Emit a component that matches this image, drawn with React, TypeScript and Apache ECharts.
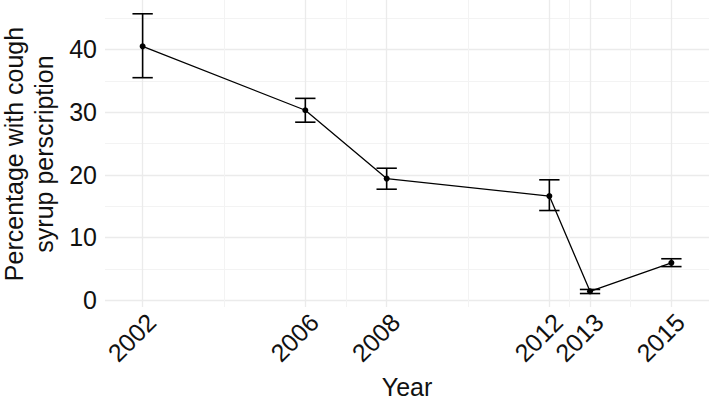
import React, { useEffect, useRef } from "react";
import * as echarts from "echarts";

const years = [2002, 2006, 2008, 2012, 2013, 2015];
const pct = [40.5, 30.3, 19.4, 16.6, 1.4, 5.95];
const lower = [35.5, 28.4, 17.7, 14.3, 1.05, 5.35];
const upper = [45.7, 32.2, 21.05, 19.2, 1.7, 6.6];
const xMajor = [2002, 2006, 2008, 2012, 2013, 2015];
const xMinor = [2004, 2007, 2010, 2012.5, 2014];
const yMajor = [0, 10, 20, 30, 40];
const yMinor = [5, 15, 25, 35, 45];
const yTitle = "Percentage with cough\nsyrup perscription";
const xTitle = "Year";

const FONT = "Liberation Sans, Arial, Helvetica, sans-serif";
const TXT = "#111111";
const FS = 25;

export default function App() {
  const ref = useRef<HTMLDivElement>(null);
  useEffect(() => {
    document.body.style.margin = "0";
    const chart = echarts.init(ref.current!, null, { renderer: "svg" });
    const xMin = 2001.075;
    const xMax = 2015.925;
    const yMin = -1.1;
    const yMax = 47.9;
    chart.setOption({
      animation: false,
      textStyle: { fontFamily: FONT },
      grid: { left: 105, right: 0, top: 0, bottom: 101, containLabel: false, outerBoundsMode: "none" },
      graphic: [
        {
          type: "text",
          x: 29,
          y: 154,
          rotation: Math.PI / 2,
          style: {
            text: yTitle,
            fill: TXT,
            font: `${FS}px ${FONT}`,
            fontSize: FS,
            fontFamily: FONT,
            lineHeight: 30,
            align: "center",
            verticalAlign: "middle",
          },
        },
      ],
      xAxis: [
        {
          type: "value",
          min: xMin,
          max: xMax,
          name: xTitle,
          nameLocation: "middle",
          nameGap: 67,
          nameTextStyle: { fontSize: FS, color: TXT, fontFamily: FONT },
          axisLine: { show: false },
          axisTick: { show: false, customValues: xMajor },
          axisLabel: {
            customValues: xMajor,
            rotate: 45,
            align: "right",
            verticalAlign: "top",
            fontSize: FS,
            color: TXT,
            fontFamily: FONT,
            margin: 2,
            formatter: (v: number) => String(v),
          },
          splitLine: { show: true, lineStyle: { color: "#ebebeb", width: 1.3 } },
        },
        {
          type: "value",
          min: xMin,
          max: xMax,
          axisLine: { show: false },
          axisTick: { show: false, customValues: xMinor },
          axisLabel: { show: false },
          splitLine: { show: true, lineStyle: { color: "#f3f3f3", width: 1 } },
        },
      ],
      yAxis: [
        {
          type: "value",
          min: yMin,
          max: yMax,
          axisLine: { show: false },
          axisTick: { show: false, customValues: yMajor },
          axisLabel: {
            customValues: yMajor,
            fontSize: FS,
            color: TXT,
            fontFamily: FONT,
            margin: 8,
          },
          splitLine: { show: true, lineStyle: { color: "#ebebeb", width: 1.3 } },
        },
        {
          type: "value",
          min: yMin,
          max: yMax,
          axisLine: { show: false },
          axisTick: { show: false, customValues: yMinor },
          axisLabel: { show: false },
          splitLine: { show: true, lineStyle: { color: "#f3f3f3", width: 1 } },
        },
      ],
      series: [
        {
          type: "custom",
          xAxisIndex: 0,
          yAxisIndex: 0,
          data: years.map((y, i) => [y, lower[i], upper[i]]),
          renderItem: (params: any, api: any) => {
            const x = api.value(0);
            const lo = api.value(1);
            const hi = api.value(2);
            const w = 0.25;
            const pTop = api.coord([x, hi]);
            const pBot = api.coord([x, lo]);
            const tl = api.coord([x - w, hi]);
            const tr = api.coord([x + w, hi]);
            const bl = api.coord([x - w, lo]);
            const br = api.coord([x + w, lo]);
            const style = { stroke: "#000", lineWidth: 1.6 };
            return {
              type: "group",
              children: [
                { type: "line", shape: { x1: pTop[0], y1: pTop[1], x2: pBot[0], y2: pBot[1] }, style },
                { type: "line", shape: { x1: tl[0], y1: tl[1], x2: tr[0], y2: tr[1] }, style },
                { type: "line", shape: { x1: bl[0], y1: bl[1], x2: br[0], y2: br[1] }, style },
              ],
            };
          },
          z: 3,
        },
        {
          type: "line",
          xAxisIndex: 0,
          yAxisIndex: 0,
          data: years.map((y, i) => [y, pct[i]]),
          symbol: "circle",
          symbolSize: 6,
          showSymbol: true,
          itemStyle: { color: "#000" },
          lineStyle: { color: "#000", width: 1.3 },
          z: 4,
        },
      ],
    });
    return () => chart.dispose();
  }, []);
  return <div ref={ref} style={{ width: 709, height: 408 }} />;
}
